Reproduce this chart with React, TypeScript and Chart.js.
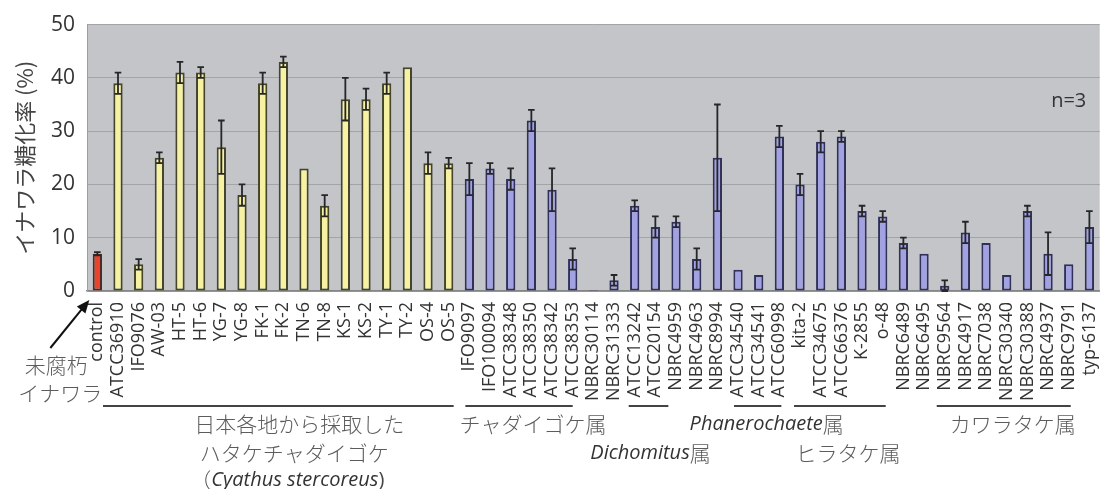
import { useEffect, useRef } from "react";
import { Chart, registerables } from "chart.js";

Chart.register(...registerables);

const categories = [
  "control", "ATCC36910", "IFO9076", "AW-03", "HT-5", "HT-6", "YG-7", "YG-8", "FK-1", "FK-2",
  "TN-6", "TN-8", "KS-1", "KS-2", "TY-1", "TY-2", "OS-4", "OS-5",
  "IFO9097", "IFO100094", "ATCC38348", "ATCC38350", "ATCC38342", "ATCC38353",
  "NBRC30114", "NBRC31333", "ATCC13242", "ATCC20154", "NBRC4959", "NBRC4963", "NBRC8994",
  "ATCC34540", "ATCC34541", "ATCC60998", "kita-2", "ATCC34675", "ATCC66376", "K-2855", "o-48",
  "NBRC6489", "NBRC6495", "NBRC9564", "NBRC4917", "NBRC7038", "NBRC30340", "NBRC30388",
  "NBRC4937", "NBRC9791", "typ-6137",
];

const values = [
  7, 39, 5, 25, 41, 41, 27, 18, 39, 43,
  23, 16, 36, 36, 39, 42, 24, 24,
  21, 23, 21, 32, 19, 6,
  0.2, 2, 16, 12, 13, 6, 25,
  4, 3, 29, 20, 28, 29, 15, 14,
  9, 7, 1, 11, 9, 3, 15,
  7, 5, 12,
];

const errors = [
  0.3, 2, 1, 1, 2, 1, 5, 2, 2, 1,
  0, 2, 4, 2, 2, 0, 2, 1,
  3, 1, 2, 2, 4, 2,
  0, 1, 1, 2, 1, 2, 10,
  0, 0, 2, 2, 2, 1, 1, 1,
  1, 0, 1, 2, 0, 0, 1,
  4, 0, 3,
];

// kind of each bar: 0 = control, 1 = Cyathus stercoreus isolates, 2 = other strains
const barKinds = [
  0, 1, 1, 1, 1, 1, 1, 1, 1, 1, 1, 1, 1, 1, 1, 1, 1, 1,
  2, 2, 2, 2, 2, 2, 2, 2, 2, 2, 2, 2, 2, 2, 2, 2, 2, 2, 2, 2, 2, 2, 2, 2, 2, 2, 2, 2, 2, 2, 2,
];

const yTicks = [0, 10, 20, 30, 40, 50];
const yTitle = "イナワラ糖化率 (%)";
const noteText = "n=3";
const controlNote = ["未腐朽", "イナワラ"];

// group brackets: first/last category index
const brackets = [
  { from: 1, to: 17, padL: 15, padR: 5 },
  { from: 18, to: 23, padL: 4, padR: 0 },
  { from: 26, to: 27, padL: 6, padR: 13 },
  { from: 31, to: 33, padL: 4, padR: 2 },
  { from: 34, to: 38, padL: 6, padR: 3 },
  { from: 41, to: 47, padL: 8, padR: 2 },
];

type Run = { t: string; k: "jp" | "it" | "lat" };
const bracketTexts: { b: number; row: number; dx: number; runs: Run[] }[] = [
  { b: 0, row: 0, dx: 21, runs: [{ t: "日本各地から採取した", k: "jp" }] },
  { b: 0, row: 1, dx: 16, runs: [{ t: "ハタケチャダイゴケ", k: "jp" }] },
  { b: 0, row: 2, dx: 9, runs: [{ t: "（", k: "jp" }, { t: "Cyathus stercoreus", k: "it" }, { t: ")", k: "lat" }] },
  { b: 1, row: 0, dx: 14, runs: [{ t: "チャダイゴケ属", k: "jp" }] },
  { b: 2, row: 1, dx: 2, runs: [{ t: "Dichomitus", k: "it" }, { t: "属", k: "jp" }] },
  { b: 3, row: 0, dx: 9, runs: [{ t: "Phanerochaete", k: "it" }, { t: "属", k: "jp" }] },
  { b: 4, row: 1, dx: 8, runs: [{ t: "ヒラタケ属", k: "jp" }] },
  { b: 5, row: 0, dx: 9, runs: [{ t: "カワラタケ属", k: "jp" }] },
];

const FILLS = ["#e8432c", "#f6f2a2", "#a2a2e2"];
const BORDERS = ["#4a2a22", "#45452c", "#30305a"];
const PLOT_BG = "#c3c5c9";

const runFonts: Record<string, string> = {
  jp: '300 21px "Noto Sans CJK JP"',
  it: 'italic 20px "Open Sans"',
  lat: '20px "Open Sans"',
};
const runColors: Record<string, string> = { jp: "#5c5c5c", it: "#333", lat: "#444" };

const bgPlugin = {
  id: "plotBg",
  beforeDraw(chart: any) {
    const { ctx, chartArea: a } = chart;
    ctx.save();
    ctx.fillStyle = PLOT_BG;
    ctx.fillRect(a.left, a.top, a.right - a.left, a.bottom - a.top);
    ctx.restore();
  },
};

const errPlugin = {
  id: "errBars",
  afterDatasetsDraw(chart: any) {
    const { ctx } = chart;
    const ys = chart.scales.y;
    const meta = chart.getDatasetMeta(0);
    ctx.save();
    ctx.strokeStyle = "#262626";
    ctx.lineWidth = 1.8;
    values.forEach((v, i) => {
      const e = errors[i];
      if (!e) return;
      const x = meta.data[i].x;
      const yt = ys.getPixelForValue(v + e);
      const yb = ys.getPixelForValue(v - e);
      const cap = 3.3;
      ctx.beginPath();
      ctx.moveTo(x, yt);
      ctx.lineTo(x, yb);
      ctx.moveTo(x - cap, yt);
      ctx.lineTo(x + cap, yt);
      ctx.moveTo(x - cap, yb);
      ctx.lineTo(x + cap, yb);
      ctx.stroke();
    });
    ctx.restore();
  },
};

function drawRuns(ctx: CanvasRenderingContext2D, runs: Run[], cx: number, cy: number) {
  let total = 0;
  const widths = runs.map((r) => {
    ctx.font = runFonts[r.k];
    const w = ctx.measureText(r.t).width;
    total += w;
    return w;
  });
  let x = cx - total / 2;
  ctx.textAlign = "left";
  ctx.textBaseline = "middle";
  runs.forEach((r, i) => {
    ctx.font = runFonts[r.k];
    ctx.fillStyle = runColors[r.k];
    ctx.fillText(r.t, x, cy);
    x += widths[i];
  });
}

const annotPlugin = {
  id: "annotations",
  afterDraw(chart: any) {
    const { ctx, chartArea: a } = chart;
    const xs = chart.scales.x;
    ctx.save();

    // n=3
    ctx.fillStyle = "#333";
    ctx.font = '20px "Open Sans"';
    ctx.textAlign = "center";
    ctx.textBaseline = "middle";
    ctx.fillText(noteText, a.right - 31, a.top + 77);

    // arrow to control
    const tipX = xs.getPixelForValue(0) - 8;
    const tipY = a.bottom + 9;
    const tailX = tipX - 39;
    const tailY = tipY + 48;
    const ang = Math.atan2(tipY - tailY, tipX - tailX);
    ctx.strokeStyle = "#111";
    ctx.fillStyle = "#111";
    ctx.lineWidth = 2;
    ctx.beginPath();
    ctx.moveTo(tailX, tailY);
    ctx.lineTo(tipX - 8 * Math.cos(ang), tipY - 8 * Math.sin(ang));
    ctx.stroke();
    ctx.beginPath();
    ctx.moveTo(tipX, tipY);
    ctx.lineTo(tipX - 13 * Math.cos(ang) + 5.5 * Math.sin(ang), tipY - 13 * Math.sin(ang) - 5.5 * Math.cos(ang));
    ctx.lineTo(tipX - 13 * Math.cos(ang) - 5.5 * Math.sin(ang), tipY - 13 * Math.sin(ang) + 5.5 * Math.cos(ang));
    ctx.closePath();
    ctx.fill();

    // control note
    ctx.fillStyle = runColors.jp;
    ctx.font = runFonts.jp;
    ctx.textAlign = "center";
    ctx.fillText(controlNote[0], tipX - 33, a.bottom + 74);
    ctx.fillText(controlNote[1], tipX - 29, a.bottom + 102);

    // brackets
    const lineY = a.bottom + 115;
    const mids: number[] = [];
    ctx.strokeStyle = "#444";
    ctx.lineWidth = 2;
    brackets.forEach((br) => {
      const x1 = xs.getPixelForValue(br.from) - br.padL;
      const x2 = xs.getPixelForValue(br.to) + br.padR;
      mids.push((x1 + x2) / 2);
      ctx.beginPath();
      ctx.moveTo(x1, lineY);
      ctx.lineTo(x2, lineY);
      ctx.stroke();
    });

    const rowY = [a.bottom + 133, a.bottom + 162, a.bottom + 189];
    bracketTexts.forEach((bt) => {
      drawRuns(ctx, bt.runs, mids[bt.b] + bt.dx, rowY[bt.row]);
    });
    ctx.restore();
  },
};

export default function App() {
  const ref = useRef<HTMLCanvasElement>(null);
  useEffect(() => {
    const canvas = ref.current;
    if (!canvas) return;
    const chart = new Chart(canvas, {
      type: "bar",
      data: {
        labels: categories,
        datasets: [
          {
            data: values,
            backgroundColor: barKinds.map((k) => FILLS[k]),
            borderColor: barKinds.map((k) => BORDERS[k]),
            borderWidth: 2,
            borderSkipped: false,
            barPercentage: 0.9,
            categoryPercentage: 0.5,
          },
        ],
      },
      options: {
        responsive: false,
        animation: false,
        layout: { padding: { top: 23, right: 1, left: 0, bottom: 0 } },
        plugins: { legend: { display: false }, tooltip: { enabled: false } },
        scales: {
          x: {
            grid: { display: false, drawTicks: false },
            border: { display: true, color: "#858585", width: 1.5 },
            ticks: {
              autoSkip: false,
              minRotation: 90,
              maxRotation: 90,
              padding: 11,
              color: "#333",
              font: { family: '"Open Sans"', size: 18 },
            },
            afterFit: (s: any) => {
              s.height = 198;
            },
          },
          y: {
            min: 0,
            max: 50,
            afterBuildTicks: (s: any) => {
              s.ticks = yTicks.map((v) => ({ value: v }));
            },
            ticks: { padding: 12, color: "#333", font: { family: '"Open Sans"', size: 21 } },
            grid: { color: "#a2a4aa", drawTicks: false, lineWidth: 1 },
            border: { display: true, color: "#9c9ea2" },
            title: {
              display: true,
              text: yTitle,
              color: "#444",
              font: { family: '"Noto Sans CJK JP"', size: 22 },
              padding: { top: 11, bottom: 0 },
            },
            afterFit: (s: any) => {
              s.width = 87;
            },
          },
        },
      },
      plugins: [bgPlugin, errPlugin, annotPlugin],
    } as any);
    return () => chart.destroy();
  }, []);

  return (
    <div style={{ position: "fixed", left: 0, top: 0, width: 1118, height: 489, overflow: "hidden", background: "#fff" }}>
      <canvas ref={ref} width={1122} height={489} style={{ display: "block" }} />
    </div>
  );
}
